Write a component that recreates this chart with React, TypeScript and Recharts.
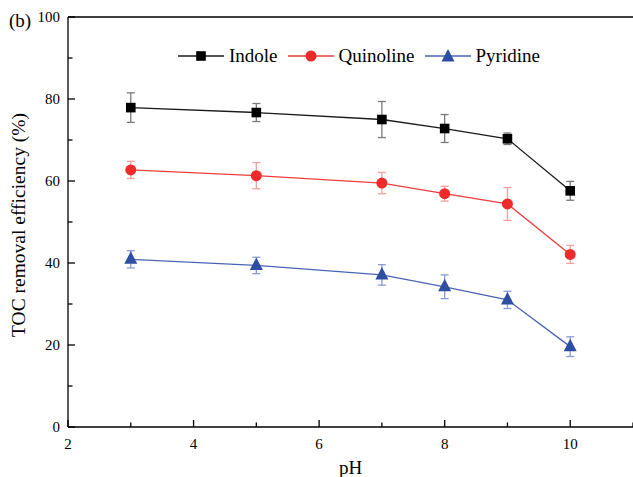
import { LineChart, Line, XAxis, YAxis, ErrorBar, ReferenceLine, Legend, Label } from "recharts";

const phValues = [3, 5, 7, 8, 9, 10];
const indole = [77.9, 76.7, 75.0, 72.8, 70.3, 57.6];
const indoleErr = [3.6, 2.2, 4.4, 3.4, 1.4, 2.3];
const quinoline = [62.7, 61.3, 59.5, 56.9, 54.4, 42.1];
const quinolineErr = [2.1, 3.2, 2.6, 1.8, 4.0, 2.2];
const pyridine = [40.9, 39.4, 37.1, 34.2, 31.0, 19.6];
const pyridineErr = [2.1, 2.0, 2.5, 2.9, 2.1, 2.4];

const xTicks = [2, 3, 4, 5, 6, 7, 8, 9, 10, 11];
const yTicks = [0, 10, 20, 30, 40, 50, 60, 70, 80, 90, 100];

const data = phValues.map((ph, i) => ({
  ph,
  indole: indole[i],
  indoleErr: indoleErr[i],
  quinoline: quinoline[i],
  quinolineErr: quinolineErr[i],
  pyridine: pyridine[i],
  pyridineErr: pyridineErr[i],
}));

const FONT = "'Liberation Serif', serif";
const TICK_MARGIN = 8;

const COLORS = {
  indole: { line: "#1a1a1a", mark: "#000000", err: "#7a7a7a" },
  quinoline: { line: "#f03c3c", mark: "#ee2a2a", err: "#f4a0a0" },
  pyridine: { line: "#4a64b4", mark: "#2d4ea3", err: "#8a9ad4" },
};

const Square = ({ cx, cy, color }: any) => (
  <rect x={cx - 4.8} y={cy - 4.8} width={9.6} height={9.6} fill={color} />
);
const Circle = ({ cx, cy, color }: any) => <circle cx={cx} cy={cy} r={5.5} fill={color} />;
const Triangle = ({ cx, cy, color }: any) => (
  <polygon
    points={`${cx},${cy - 8} ${cx - 6.5},${cy + 4.5} ${cx + 6.5},${cy + 4.5}`}
    fill={color}
  />
);

const XTick = ({ x, y, payload }: any) => {
  const axisY = y - TICK_MARGIN;
  const major = payload.value % 2 === 0;
  return (
    <g>
      <line x1={x} x2={x} y1={axisY} y2={axisY - (major ? 7 : 4.5)} stroke="#000" strokeWidth={1.3} />
      {major && (
        <text x={x} y={axisY + 17} textAnchor="middle" dominantBaseline="central" fontSize={15} fontFamily={FONT} fill="#000">
          {payload.value}
        </text>
      )}
    </g>
  );
};

const YTick = ({ x, y, payload }: any) => {
  const axisX = x + TICK_MARGIN;
  const major = payload.value % 20 === 0;
  return (
    <g>
      <line x1={axisX} x2={axisX + (major ? 7 : 4.5)} y1={y} y2={y} stroke="#000" strokeWidth={1.3} />
      {major && (
        <text x={axisX - 8} y={y} textAnchor="end" dominantBaseline="central" fontSize={15} fontFamily={FONT} fill="#000">
          {payload.value}
        </text>
      )}
    </g>
  );
};

const legendItems = [
  { name: "Indole", c: COLORS.indole, Mark: Square },
  { name: "Quinoline", c: COLORS.quinoline, Mark: Circle },
  { name: "Pyridine", c: COLORS.pyridine, Mark: Triangle },
];

const renderLegend = () => (
  <div style={{ display: "flex", alignItems: "center", fontFamily: FONT, fontSize: 19 }}>
    {legendItems.map(({ name, c, Mark }) => (
      <div key={name} style={{ display: "flex", alignItems: "center", marginRight: 10 }}>
        <svg width={46} height={20} style={{ marginRight: 5 }}>
          <line x1={0} x2={46} y1={10} y2={10} stroke={c.line} strokeWidth={1.3} />
          <Mark cx={23} cy={name === "Pyridine" ? 11 : 10} color={c.mark} />
        </svg>
        <span style={{ fontFamily: FONT }}>{name}</span>
      </div>
    ))}
  </div>
);

export default function App() {
  return (
    <div style={{ position: "absolute", left: 0, top: 0, width: 633, height: 477, background: "#fff", fontFamily: FONT }}>
      <div style={{ position: "absolute", left: 9, top: 10, fontFamily: FONT, fontSize: 19, lineHeight: "22px" }}>
        (b)
      </div>
      <LineChart width={633} height={477} data={data} margin={{ top: 17, right: 0, bottom: 0, left: 0 }}>
        <XAxis
          dataKey="ph"
          type="number"
          domain={[2, 11]}
          ticks={xTicks}
          interval={0}
          height={50}
          tickSize={0}
          tickMargin={TICK_MARGIN}
          tick={<XTick />}
          axisLine={{ stroke: "#000", strokeWidth: 1.3 }}
          tickLine={false}
        >
          <Label
            content={({ viewBox }: any) => (
              <text
                x={viewBox.x + viewBox.width / 2}
                y={viewBox.y + 40}
                textAnchor="middle"
                dominantBaseline="central"
                fontSize={19}
                fontFamily={FONT}
              >
                pH
              </text>
            )}
          />
        </XAxis>
        <YAxis
          type="number"
          domain={[0, 100]}
          ticks={yTicks}
          interval={0}
          width={68}
          tickSize={0}
          tickMargin={TICK_MARGIN}
          tick={<YTick />}
          axisLine={{ stroke: "#000", strokeWidth: 1.3 }}
          tickLine={false}
        >
          <Label
            content={() => {
              const cx = 18;
              const cy = 225;
              return (
                <text
                  x={cx}
                  y={cy}
                  transform={`rotate(-90, ${cx}, ${cy})`}
                  textAnchor="middle"
                  dominantBaseline="central"
                  fontSize={19.5}
                  fontFamily={FONT}
                >
                  TOC removal efficiency (%)
                </text>
              );
            }}
          />
        </YAxis>
        <ReferenceLine y={100} stroke="#000" strokeWidth={1.3} />
        <Legend
          content={renderLegend}
          layout="horizontal"
          verticalAlign="middle"
          align="center"
          wrapperStyle={{ top: 45, left: 178, width: 420 }}
        />
        <Line
          dataKey="indole"
          stroke={COLORS.indole.line}
          strokeWidth={1.3}
          isAnimationActive={false}
          dot={(p: any) => <Square key={`i${p.index}`} cx={p.cx} cy={p.cy} color={COLORS.indole.mark} />}
          activeDot={false}
        >
          <ErrorBar dataKey="indoleErr" direction="y" width={4} stroke={COLORS.indole.err} strokeWidth={1.3} />
        </Line>
        <Line
          dataKey="quinoline"
          stroke={COLORS.quinoline.line}
          strokeWidth={1.3}
          isAnimationActive={false}
          dot={(p: any) => <Circle key={`q${p.index}`} cx={p.cx} cy={p.cy} color={COLORS.quinoline.mark} />}
          activeDot={false}
        >
          <ErrorBar dataKey="quinolineErr" direction="y" width={4} stroke={COLORS.quinoline.err} strokeWidth={1.3} />
        </Line>
        <Line
          dataKey="pyridine"
          stroke={COLORS.pyridine.line}
          strokeWidth={1.3}
          isAnimationActive={false}
          dot={(p: any) => <Triangle key={`p${p.index}`} cx={p.cx} cy={p.cy} color={COLORS.pyridine.mark} />}
          activeDot={false}
        >
          <ErrorBar dataKey="pyridineErr" direction="y" width={4} stroke={COLORS.pyridine.err} strokeWidth={1.3} />
        </Line>
      </LineChart>
    </div>
  );
}
